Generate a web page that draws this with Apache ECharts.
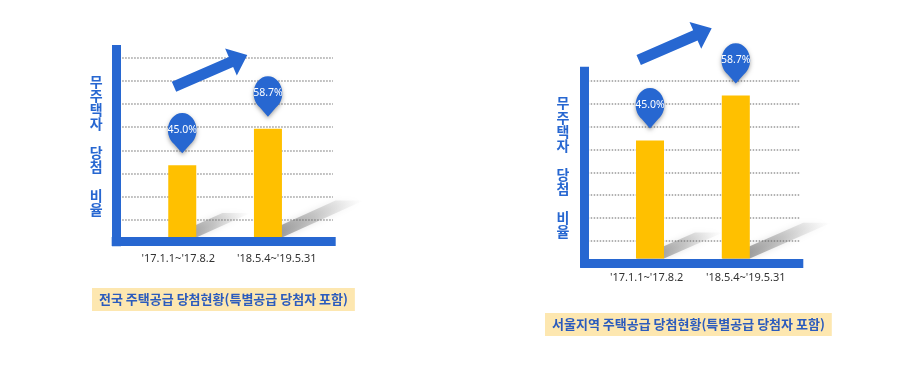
<!DOCTYPE html>
<html><head><meta charset="utf-8">
<script src="https://cdn.jsdelivr.net/npm/echarts@6/dist/echarts.min.js"></script>
<style>html,body{margin:0;padding:0;background:#fff}#c{width:907px;height:371px}</style>
</head><body><div id="c"></div>
<script>
// ---- data ----
const categories = ["'17.1.1~'17.8.2", "'18.5.4~'19.5.31"];
const nationalRates = [45.0, 58.7];
const seoulRates = [45.0, 58.7];
const yAxisName = '무주택자 당첨 비율';
const captionNational = '전국 주택공급 당첨현황(특별공급 당첨자 포함)';
const captionSeoul = '서울지역 주택공급 당첨현황(특별공급 당첨자 포함)';

// ---- style / layout ----
const BLUE = '#2767d1';
const YELLOW = '#ffc000';
const KR = "'Noto Sans CJK KR', 'Noto Sans', sans-serif";

const panels = [
  {
    data: nationalRates, caption: captionNational,
    axis: {left: 116.2, top: 49.5, width: 215, height: 192.2},
    lines: {left: 116.2, top: 45, width: 216.8, height: 197.5, max: 8.565},
    bars: {left: 139.4, top: 45, width: 171.4, height: 192.5, min: 18, max: 90},
    labelMargin: 15.5, labelPad: [[0, 8, 0, 0], [0, 0, 0, 17.6]],
    shadow: [0.75, 0.34], nameGap: 20, namePad: 9.6,
    arrow: [[174, 86.7], [247.3, 55]], capPos: {left: 92, top: 288}
  },
  {
    data: seoulRates, caption: captionSeoul,
    axis: {left: 584.7, top: 71.2, width: 214.1, height: 192.1},
    lines: {left: 584.7, top: 66.7, width: 216, height: 197.2, max: 8.611},
    bars: {left: 607.1, top: 66.7, width: 171.6, height: 191.8, min: 9, max: 67.5},
    labelMargin: 13.8, labelPad: [[0, 6.6, 0, 0], [0, 0, 0, 20]],
    shadow: [0.5, 0.22], nameGap: 21.7, namePad: 9.4,
    arrow: [[638.7, 60], [711.7, 28.3]], capPos: {left: 545, top: 313}
  }
];

function arrowPts(t, p) {
  const dx = p[0] - t[0], dy = p[1] - t[1], L = Math.hypot(dx, dy);
  const ux = dx / L, uy = dy / L, nx = -uy, ny = ux;
  const sw = 5.5, hw = 14.7, hl = 17.8, b = L - hl;
  const local = [[0, -sw], [b, -sw], [b, -hw], [L, 0], [b, hw], [b, sw], [0, sw]];
  return local.map(([a, c]) => [t[0] + ux * a + nx * c, t[1] + uy * a + ny * c]);
}

const PIN = 'path://M17,40.3L7.25,30.93C2.8,27.8 0,22.7 0,17C0,7.6 7.6,0 17,0C26.4,0 34,7.6 34,17C34,22.7 31.2,27.8 26.75,30.93Z';

const option = {
  backgroundColor: '#fff',
  animation: false,
  title: [], grid: [], xAxis: [], yAxis: [], series: [], graphic: []
};

panels.forEach((P, pi) => {
  const g0 = pi * 3;
  option.grid.push(
    {left: P.axis.left, top: P.axis.top, width: P.axis.width, height: P.axis.height},
    {left: P.lines.left, top: P.lines.top, width: P.lines.width, height: P.lines.height},
    {left: P.bars.left, top: P.bars.top, width: P.bars.width, height: P.bars.height}
  );
  const axLine = {show: true, onZero: false, lineStyle: {color: BLUE, width: 9, cap: 'square'}};
  // axis lines grid
  option.xAxis.push({gridIndex: g0, type: 'value', min: 0, max: 1, z: 10,
    axisLine: axLine, axisTick: {show: false}, axisLabel: {show: false}, splitLine: {show: false}});
  option.yAxis.push({gridIndex: g0, type: 'value', min: 0, max: 1, z: 10,
    axisLine: axLine, axisTick: {show: false}, axisLabel: {show: false}, splitLine: {show: false},
    name: yAxisName.split('').join('\n'), nameLocation: 'middle', nameRotate: 0, nameGap: P.nameGap,
    nameTextStyle: {color: BLUE, fontSize: 14, fontWeight: 'bold', fontFamily: KR, lineHeight: 14.3,
      align: 'center', verticalAlign: 'middle', padding: [0, 0, P.namePad, 0]}});
  // dotted gridlines grid
  option.xAxis.push({gridIndex: g0 + 1, type: 'value', show: false, min: 0, max: 1});
  option.yAxis.push({gridIndex: g0 + 1, type: 'value', min: 0, max: P.lines.max, interval: 1,
    axisLine: {show: false}, axisTick: {show: false}, axisLabel: {show: false},
    splitLine: {show: true, showMinLine: false, showMaxLine: false,
      lineStyle: {color: '#999', width: 1.5, type: 'dotted'}}});
  // bars grid
  option.xAxis.push({gridIndex: g0 + 2, type: 'category', data: categories,
    axisLine: {show: false}, axisTick: {show: false},
    axisLabel: {interval: 0, hideOverlap: false, margin: P.labelMargin, color: '#333', fontSize: 11,
      fontFamily: "'Noto Sans', sans-serif",
      formatter: (v, i) => '{l' + i + '|' + v + '}',
      rich: {l0: {padding: P.labelPad[0], fontSize: 11, color: '#333'},
             l1: {padding: P.labelPad[1], fontSize: 11, color: '#333'}}}});
  option.yAxis.push({gridIndex: g0 + 2, type: 'value', min: P.bars.min, max: P.bars.max, show: false});

  const yMin = P.bars.min, sx = P.shadow[0], sy = P.shadow[1];
  option.series.push({
    type: 'custom', xAxisIndex: g0 + 2, yAxisIndex: g0 + 2, z: 1, clip: false, silent: true,
    data: P.data.map((v, i) => [i, v]),
    renderItem: (params, api) => {
      const idx = api.value(0), v = api.value(1);
      const top = api.coord([idx, v]), base = api.coord([idx, yMin]);
      const h = base[1] - top[1], half = 14;
      const xl = base[0] - half, xr = base[0] + half, yb = base[1];
      const dx = h * sx, dy = h * sy;
      return {
        type: 'polygon',
        shape: {points: [[xl, yb], [xr, yb], [xr + dx, yb - dy], [xl + dx, yb - dy]]},
        style: {
          fill: new echarts.graphic.LinearGradient(0, 1, 1, 0, [
            {offset: 0, color: 'rgba(70,70,70,0.65)'},
            {offset: 0.55, color: 'rgba(120,120,120,0.35)'},
            {offset: 1, color: 'rgba(170,170,170,0)'}]),
          shadowBlur: 6, shadowColor: 'rgba(0,0,0,0.25)'
        }
      };
    }
  });
  option.series.push({
    type: 'bar', xAxisIndex: g0 + 2, yAxisIndex: g0 + 2, z: 3, barWidth: 28,
    data: P.data, itemStyle: {color: YELLOW},
    markPoint: {
      symbol: PIN, symbolSize: [34, 40.3], symbolKeepAspect: true, symbolOffset: [0, -32.2],
      itemStyle: {color: BLUE, shadowBlur: 4, shadowColor: 'rgba(0,0,0,0.35)', shadowOffsetY: 2},
      label: {show: true, position: 'inside', offset: [0, -3.2], color: '#fff', fontSize: 10.5,
        fontFamily: "'Noto Sans', sans-serif", formatter: p => p.data.value.toFixed(1) + '%'},
      data: P.data.map((v, i) => ({coord: [i, v], value: v}))
    }
  });

  option.graphic.push({type: 'polygon', z: 5, shape: {points: arrowPts(P.arrow[0], P.arrow[1])},
    style: {fill: BLUE}});

  option.title.push({
    text: P.caption, left: P.capPos.left, top: P.capPos.top,
    backgroundColor: '#fde7b0', padding: [5, 7, 5, 7],
    textStyle: {color: '#2b5bbd', fontSize: 13, fontWeight: 'bold', fontFamily: KR}
  });
});

const chart = echarts.init(document.getElementById('c'), null, {renderer: 'canvas'});
chart.setOption(option);
</script></body></html>
